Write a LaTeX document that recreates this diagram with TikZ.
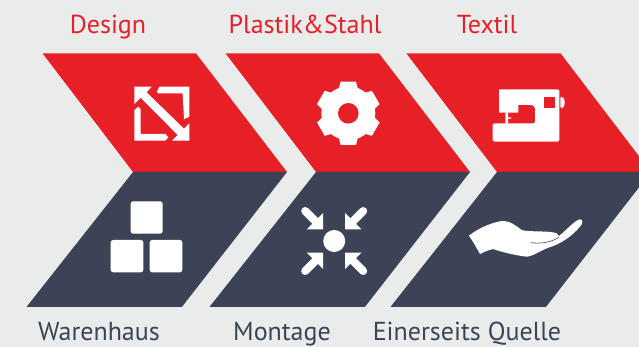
\documentclass[tikz,border=0pt]{standalone}
\usepackage{fontspec}
\setmainfont{PT Sans}
\definecolor{bgc}{HTML}{EAECEC}
\definecolor{redc}{HTML}{E62026}
\definecolor{darkc}{HTML}{3D4356}
\tikzset{
  redlabel/.style={text=redc,font=\fontsize{26}{30}\selectfont,anchor=base,inner sep=0pt},
  darklabel/.style={text=darkc,font=\fontsize{26}{30}\selectfont,anchor=base,inner sep=0pt},
  redpanel/.style={fill=redc,draw=none},
  darkpanel/.style={fill=darkc,draw=none},
  iconw/.style={fill=white,draw=none},
  iconr/.style={fill=redc,draw=none},
}
\begin{document}
\begin{tikzpicture}[x=1pt,y=-1pt]
\useasboundingbox (0,0) rectangle (639,347);
\clip (0,0) rectangle (639,347);
\fill[bgc] (0,0) rectangle (639,347);
% panels
\path[redpanel] (42.6,53.4) -- (196,53.4) -- (287,172) -- (133,172) -- cycle;
\path[darkpanel] (133,172) -- (287,172) -- (182,306.8) -- (26.6,306.8) -- cycle;
\path[redpanel] (225.6,53.4) -- (379,53.4) -- (470,172) -- (316,172) -- cycle;
\path[darkpanel] (316,172) -- (470,172) -- (365,306.8) -- (209.6,306.8) -- cycle;
\path[redpanel] (406.4,53.4) -- (560.6,53.4) -- (651,172) -- (497,172) -- cycle;
\path[darkpanel] (497,172) -- (651,172) -- (546,306.8) -- (390.6,306.8) -- cycle;
% expand icon
\begin{scope}[shift={(100,60)},x=0.3333pt,y=-0.3333pt]
\path[iconw] (103,80) -- (155,80) -- (140,97) -- (252,206) -- (268,190) -- (268,242) -- (216,242) -- (233,225) -- (122,113) -- (103,132) -- cycle;
\path[iconw] (170,96) -- (178,80) -- (268,80) -- (268,170) -- (252,178) -- (248,100) -- (175,100) -- cycle;
\path[iconw] (103,150) -- (115,140) -- (122,148) -- (122,222) -- (196,222) -- (205,232) -- (196,242) -- (103,242) -- cycle;
\end{scope}
% gear
\begin{scope}[shift={(348.3,113.3)}]
\fill[white] (0,0) circle (27);
\foreach \a in {30,90,150,210,270,330}{
  \path[iconw] (\a-23.5:25) -- (\a-13.6:32.6) -- (\a+13.6:32.6) -- (\a+23.5:25) -- cycle;
}
\fill[redc] (0,0) circle (10.3);
\end{scope}
% sewing machine
\begin{scope}[shift={(480,70)},x=0.3333pt,y=-0.3333pt]
\path[iconw,rounded corners=1.5pt] (57,58) -- (238,58) -- (238,215) -- (38,215) -- (38,160) -- (165,160) -- (165,120) [sharp corners] .. controls (165,110) and (160,105) .. (150,105) -- (115,105) -- (115,128) -- (57,128) -- cycle;
\path[iconw] (76,128) -- (84,128) -- (84,142) -- (93,142) -- (93,146) -- (84,146) -- (84,160) -- (76,160) -- cycle;
\path[iconr] (192,82) rectangle (224,115);
\path[iconw,rounded corners=1.5pt] (241,80) -- (248,80) -- (254,90) -- (254,105) -- (248,115) -- (241,115) -- cycle;
\end{scope}
% blocks
\begin{scope}[shift={(100,190)},x=0.3333pt,y=-0.3333pt]
\path[iconw,rounded corners=2.5pt] (92,34) rectangle (188,131);
\path[iconw,rounded corners=2.5pt] (32,150) rectangle (130,247);
\path[iconw,rounded corners=2.5pt] (149,150) rectangle (247,247);
\end{scope}
% converge
\begin{scope}[shift={(334.2,241)}]
\fill[white] (0,0) circle (11);
\foreach \sx/\sy in {1/1,-1/1,1/-1,-1/-1}{
  \begin{scope}[xscale=\sx,yscale=\sy]
  \path[iconw] (11,11.5) -- (27.5,11.5) -- (11,28) -- cycle;
  \draw[white,line width=8pt,line cap=round] (16,17) -- (29,30);
  \end{scope}
}
\end{scope}
% hand
\begin{scope}[shift={(460,205)},x=0.3333pt,y=-0.3333pt]
\path[iconw] (27,92) .. controls (60,65) and (110,48) .. (130,48) .. controls (150,48) and (165,60) .. (185,75) .. controls (205,82) and (270,76) .. (290,85) .. controls (294,87) and (296,90) .. (297,93) .. controls (320,75) and (345,45) .. (360,43) .. controls (370,43) and (369,56) .. (360,65) .. controls (335,95) and (300,118) .. (265,128) .. controls (240,138) and (215,155) .. (200,155) .. controls (170,152) and (120,140) .. (100,132) .. controls (85,135) and (70,142) .. (60,147) .. controls (50,130) and (40,110) .. (27,92) -- cycle;
\draw[darkc,line width=0.6pt] (213,113) .. controls (240,117) and (275,112) .. (296,97);
\end{scope}
% labels
\node[redlabel] (t1) at (108,33.7) {Design};
\node[redlabel] (t2) at (305,33.7) {Plastik\&Stahl};
\node[redlabel] (t3) at (487,33.7) {Textil};
\node[darklabel] (b1) at (99,340) {Warenhaus};
\node[darklabel] (b2) at (282,340) {Montage};
\node[darklabel] (b3) at (467,340) {Einerseits Quelle};
\end{tikzpicture}
\end{document}
